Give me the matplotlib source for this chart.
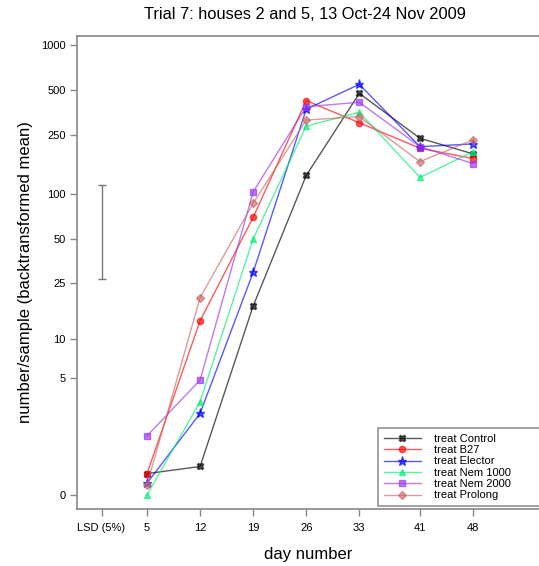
import numpy as np
import matplotlib
matplotlib.use('Agg')
import matplotlib.pyplot as plt

plt.rcParams['font.family'] = ['Liberation Sans', 'DejaVu Sans']

# Data
days = [5, 12, 19, 26, 33, 41, 48]
control = [0.39, 0.55, 17.2, 134, 475, 238, 187]
b27 = [0.39, 13.5, 70, 425, 302, 204, 174]
elector = [0.2, 2.5, 29.5, 372, 546, 209, 218]
nem1000 = [0.0, 3.19, 50, 287, 355, 130, 193]
nem2000 = [1.48, 4.84, 104, 387, 414, 209, 161]
prolong = [0.17, 19.7, 87, 315, 332, 166, 232]

series_names = ['treat Control', 'treat B27', 'treat Elector',
                'treat Nem 1000', 'treat Nem 2000', 'treat Prolong']
series_values = [control, b27, elector, nem1000, nem2000, prolong]
colors = ['#000000', '#ff0000', '#0000ff', '#00ee77', '#9933ee', '#cc6666']
markers = ['X', 'o', '*', '^', 's', 'D']
msizes = [4.5, 4.5, 6.5, 4.5, 4.2, 4]

lsd_low, lsd_high = 26.4, 116
ytick_vals = [0, 5, 10, 25, 50, 100, 250, 500, 1000]


def tr(v):
    # log(x+1) transform used for the y axis
    return np.log10(np.asarray(v, dtype=float) + 1)


fig = plt.figure(figsize=(5.39, 5.66), dpi=100)
ax = fig.add_axes([0.1429, 0.1007, 0.8571, 0.8357])

for name, vals, c, m, ms in zip(series_names, series_values, colors, markers, msizes):
    ax.plot(days, tr(vals), color=c, alpha=0.65, lw=1.0, marker=m, ms=ms,
            mfc=c, mec=c, label=name)

# LSD bar
lsd_x = -1
ax.errorbar([lsd_x], [(tr(lsd_low) + tr(lsd_high)) / 2],
            yerr=[(tr(lsd_high) - tr(lsd_low)) / 2], color='#777777',
            lw=1.0, capsize=3, capthick=1.0)

ax.set_xlim(-4.23, 56.7)
ax.set_ylim(-0.093, 3.06)
ax.set_xticks([lsd_x] + days)
ax.set_xticklabels(['LSD (5%)'] + [str(d) for d in days])
ax.set_yticks(tr(ytick_vals))
ax.set_yticklabels([str(v) for v in ytick_vals])

for s in ['left', 'bottom', 'top']:
    ax.spines[s].set_color('#888888')
    ax.spines[s].set_linewidth(1.2)
ax.spines['right'].set_visible(False)
ax.tick_params(axis='both', colors='#888888', labelcolor='black',
               labelsize=8, length=5, width=1, direction='out')
ax.tick_params(axis='x', pad=5)
ax.tick_params(axis='y', pad=3)

ax.set_xlabel('day number', fontsize=12, labelpad=10)
ax.set_ylabel('number/sample (backtransformed mean)', fontsize=12, labelpad=6)
fig.suptitle('Trial 7: houses 2 and 5, 13 Oct-24 Nov 2009', fontsize=11.8,
             x=0.565, y=0.988)

leg = ax.legend(loc='lower left', bbox_to_anchor=(378 / 539, 60 / 566, 0.4, 0.149),
                bbox_transform=fig.transFigure, mode='expand', fontsize=8,
                frameon=True, fancybox=False, handlelength=3.4, labelspacing=0.12,
                borderaxespad=0, borderpad=0.5, handletextpad=1.1)
leg.get_frame().set_edgecolor('#777777')
leg.get_frame().set_linewidth(1.2)

fig.savefig('out.png', dpi=100)
